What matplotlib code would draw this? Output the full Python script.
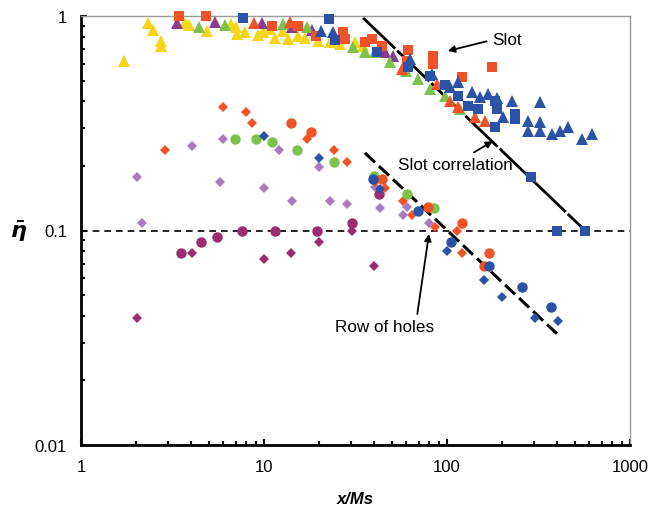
import matplotlib
matplotlib.use("Agg")
import matplotlib.pyplot as plt
from matplotlib.ticker import LogLocator, NullFormatter

plt.rcParams['font.family'] = ['Liberation Sans', 'DejaVu Sans']
plt.rcParams['mathtext.fontset'] = 'custom'
plt.rcParams['mathtext.it'] = 'DejaVu Sans:bold:italic'
plt.rcParams['mathtext.rm'] = 'DejaVu Sans:bold'

# ---- data (x/Ms, eta-bar) ----
# slot data
yel_tri_x = [1.72, 2.32, 2.47, 2.74, 2.74, 3.70, 3.89, 4.88, 6.60, 7.03, 7.12, 7.87, 9.27, 9.87,
             10.8, 11.5, 12.7, 13.5, 15.3, 16.7, 19.7, 22.9, 26.0, 31.4, 34.8]
yel_tri_y = [0.617, 0.928, 0.86, 0.765, 0.725, 0.928, 0.908, 0.851, 0.918, 0.889, 0.824, 0.842, 0.815, 0.842,
             0.87, 0.79, 0.851, 0.781, 0.807, 0.79, 0.765, 0.756, 0.74, 0.756, 0.725]

pur_tri_x = [3.35, 5.40, 9.75, 14.2, 18.3, 45.8, 50.7]
pur_tri_y = [0.928, 0.938, 0.928, 0.889, 0.86, 0.68, 0.651]

grn_tri_x = [4.41, 6.12, 12.7, 17.2, 30.6, 35.6, 40.4, 48.8, 59.7, 69.5, 80.7, 97.5, 118]
grn_tri_y = [0.889, 0.908, 0.918, 0.889, 0.717, 0.68, 0.68, 0.61, 0.554, 0.508, 0.457, 0.424, 0.368]

red_tri_x = [8.82, 13.9, 56.8, 88.2, 104, 115, 142, 161]
red_tri_y = [0.928, 0.938, 0.566, 0.482, 0.402, 0.377, 0.338, 0.324]

red_sq_x = [3.43, 4.82, 11.1, 15.3, 19.2, 27.0, 27.7, 35.6, 38.9, 44.2, 61.2, 60.4, 83.8, 83.8, 121, 176]
red_sq_y = [1.0, 1.0, 0.898, 0.898, 0.807, 0.842, 0.781, 0.756, 0.781, 0.725, 0.694, 0.617, 0.651, 0.597,
            0.52, 0.578]

blu_sq_x = [7.68, 22.7, 24.4, 41.4, 61.2, 80.7, 97.5, 115, 130, 148, 183, 188, 235, 235, 183, 288, 399, 568]
blu_sq_y = [0.979, 0.968, 0.773, 0.68, 0.578, 0.525, 0.477, 0.424, 0.381, 0.368, 0.402, 0.368, 0.349, 0.331,
            0.304, 0.178, 0.1, 0.1]

blu_tri_x = [20.5, 23.8, 62.8, 82.8, 104, 115, 137, 151, 168, 188, 227, 322, 202, 277, 322, 277, 322, 375,
             414, 458, 547, 620]
blu_tri_y = [0.851, 0.842, 0.63, 0.537, 0.467, 0.492, 0.442, 0.419, 0.433, 0.415, 0.402, 0.397, 0.338, 0.324,
             0.321, 0.291, 0.291, 0.282, 0.291, 0.304, 0.267, 0.282]

# row of holes data
org_dia_x = [2.88, 5.97, 7.97, 8.60, 17.2, 24.1, 28.4, 40.4, 45.8, 57.5, 64.4, 86.0, 113, 121]
org_dia_y = [0.237, 0.377, 0.357, 0.317, 0.267, 0.237, 0.209, 0.168, 0.158, 0.137, 0.118, 0.104, 0.1, 0.0785]

red_cir_x = [14.0, 18.1, 44.2, 78.7, 121, 170, 159]
red_cir_y = [0.317, 0.288, 0.174, 0.129, 0.108, 0.0785, 0.0683]

grn_cir_x = [6.94, 9.04, 11.1, 15.1, 24.1, 39.9, 60.4, 84.9]
grn_cir_y = [0.267, 0.267, 0.259, 0.237, 0.209, 0.18, 0.148, 0.127]

blu_dia_x = [10.0, 20.0, 43.0, 100, 159, 200, 303, 404]
blu_dia_y = [0.276, 0.218, 0.156, 0.0802, 0.0588, 0.049, 0.0391, 0.0379]

blu_cir_x = [39.4, 69.5, 105, 170, 257, 370]
blu_cir_y = [0.174, 0.123, 0.0884, 0.0683, 0.0546, 0.044]

lil_dia_x = [2.02, 2.15, 4.04, 5.75, 5.97, 10.0, 12.1, 14.2, 20.0, 22.9, 28.4, 40.4, 43.0, 57.5, 60.4, 79.7]
lil_dia_y = [0.178, 0.108, 0.248, 0.168, 0.267, 0.158, 0.237, 0.137, 0.198, 0.137, 0.133, 0.160, 0.127,
             0.118, 0.129, 0.108]

mag_cir_x = [3.52, 4.53, 5.53, 7.58, 11.5, 19.5, 30.3, 42.5]
mag_cir_y = [0.0785, 0.0884, 0.0933, 0.1, 0.1, 0.1, 0.108, 0.148]

mag_dia_x = [2.02, 4.04, 10.0, 14.0, 20.0, 30.3, 39.9]
mag_dia_y = [0.039, 0.0785, 0.0736, 0.0785, 0.0884, 0.1, 0.0683]

# correlation lines (end points)
slot_x = [34.8, 568]
slot_y = [0.98, 0.1]
holes_x = [35.6, 399]
holes_y = [0.23, 0.033]

YEL = '#F5D516'
PUR = '#8E3A8E'
GRN = '#7DC24B'
RED = '#EF5327'
BLU = '#2B52A5'
LIL = '#A77BBE'
MAG = '#9B2D6E'

series = [
    (yel_tri_x, yel_tri_y, '^', YEL, 8),
    (pur_tri_x, pur_tri_y, '^', PUR, 8),
    (grn_tri_x, grn_tri_y, '^', GRN, 8),
    (red_tri_x, red_tri_y, '^', RED, 8),
    (red_sq_x, red_sq_y, 's', RED, 7.5),
    (blu_sq_x, blu_sq_y, 's', BLU, 7.5),
    (blu_tri_x, blu_tri_y, '^', BLU, 8),
    (lil_dia_x, lil_dia_y, 'D', LIL, 5.5),
    (mag_cir_x, mag_cir_y, 'o', MAG, 7.5),
    (mag_dia_x, mag_dia_y, 'D', MAG, 5.5),
    (org_dia_x, org_dia_y, 'D', RED, 5.5),
    (grn_cir_x, grn_cir_y, 'o', GRN, 7.5),
    (red_cir_x, red_cir_y, 'o', RED, 7.5),
    (blu_dia_x, blu_dia_y, 'D', BLU, 5.5),
    (blu_cir_x, blu_cir_y, 'o', BLU, 7.5),
]

fig = plt.figure(figsize=(6.66, 5.1), dpi=100)
ax = fig.add_axes([81 / 666, 1 - 446 / 510, 549 / 666, 429 / 510])

ax.axhline(0.1, color='black', lw=1.2, ls=(0, (4, 3)), zorder=1)
ax.plot(slot_x, slot_y, color='black', lw=2, ls=(0, (16, 1)), zorder=2)
ax.plot(holes_x, holes_y, color='black', lw=2.2, ls=(0, (4.5, 1.8)), zorder=2)

for xs, ys, mk, col, ms in series:
    ax.plot(xs, ys, ls='none', marker=mk, color=col, markersize=ms,
            markeredgewidth=0, zorder=3, clip_on=False)

ax.set_xscale('log')
ax.set_yscale('log')
ax.set_xlim(1, 1000)
ax.set_ylim(0.01, 1)

ax.set_xticks([1, 10, 100, 1000])
ax.set_xticklabels(['1', '10', '100', '1000'])
ax.set_yticks([0.01, 0.1, 1])
ax.set_yticklabels(['0.01', '0.1', '1'])
ax.xaxis.set_minor_locator(LogLocator(base=10, subs=range(2, 10)))
ax.yaxis.set_minor_locator(LogLocator(base=10, subs=range(2, 10)))
ax.xaxis.set_minor_formatter(NullFormatter())
ax.yaxis.set_minor_formatter(NullFormatter())

ax.tick_params(which='both', direction='in', top=False, right=False, labelsize=12, color='black')
ax.tick_params(which='major', length=4, width=1.5, pad=10)
ax.tick_params(which='minor', length=3, width=1.5)

for side in ['left', 'bottom']:
    ax.spines[side].set_linewidth(2)
    ax.spines[side].set_color('black')
for side in ['top', 'right']:
    ax.spines[side].set_linewidth(1)
    ax.spines[side].set_color('#9a9a9a')

ax.set_xlabel('x/Ms', fontsize=12, fontweight='bold', style='italic', labelpad=12)
ax.set_ylabel(r'$\bar{\eta}$', fontsize=16, rotation=0, labelpad=12, va='center')

arrow = dict(arrowstyle='-|>', color='black', lw=1.3, mutation_scale=10, shrinkA=2, shrinkB=0)
ax.annotate('Slot', xy=(101, 0.687), xytext=(176, 0.773), fontsize=12.3,
            ha='left', va='center', arrowprops=dict(arrow, relpos=(0, 0.5)))
ax.annotate('Slot correlation', xy=(178, 0.261), xytext=(54, 0.204), fontsize=12.3,
            ha='left', va='center', arrowprops=dict(arrow, relpos=(0.6, 1)))
ax.annotate('Row of holes', xy=(79.7, 0.0963), xytext=(24.5, 0.0355), fontsize=12.3,
            ha='left', va='center', arrowprops=dict(arrow, relpos=(0.82, 1)))

fig.savefig('out.png', dpi=100)
